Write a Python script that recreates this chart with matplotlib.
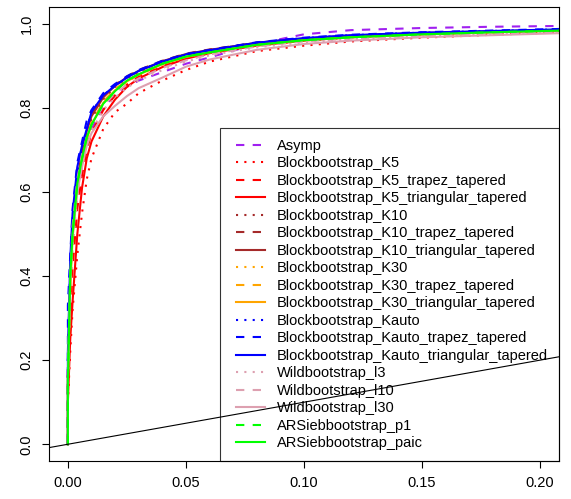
import numpy as np
import matplotlib.pyplot as plt
from matplotlib.legend_handler import HandlerLine2D

plt.rcParams['font.family'] = ['Liberation Sans', 'DejaVu Sans']

# false positive rate grid (first two points: origin and vertical jump at x=0)
fpr = [0, 0, 0.001, 0.002, 0.004, 0.006, 0.008, 0.010, 0.015, 0.020, 0.025,
       0.030, 0.040, 0.050, 0.060, 0.080, 0.100, 0.120, 0.150, 0.180, 0.210]

# true positive rates
asymp = [0, 0.20, 0.35, 0.48, 0.60, 0.67, 0.72, 0.75, 0.80, 0.83, 0.85,
         0.865, 0.885, 0.905, 0.920, 0.952, 0.975, 0.985, 0.990, 0.993, 0.995]
k5 = [0, 0.10, 0.22, 0.32, 0.45, 0.55, 0.63, 0.68, 0.75, 0.79, 0.81,
      0.835, 0.865, 0.890, 0.910, 0.935, 0.948, 0.958, 0.967, 0.974, 0.980]
k5_trap = [0, 0.15, 0.30, 0.42, 0.56, 0.64, 0.70, 0.74, 0.795, 0.83, 0.855,
           0.875, 0.900, 0.918, 0.930, 0.948, 0.960, 0.968, 0.975, 0.980, 0.984]
k5_tri = [0, 0.10, 0.25, 0.34, 0.50, 0.61, 0.68, 0.72, 0.78, 0.82, 0.85,
          0.870, 0.897, 0.917, 0.930, 0.948, 0.960, 0.968, 0.975, 0.980, 0.984]
k10 = [0, 0.15, 0.38, 0.50, 0.62, 0.69, 0.74, 0.775, 0.82, 0.85, 0.87,
       0.885, 0.910, 0.927, 0.937, 0.954, 0.964, 0.971, 0.977, 0.981, 0.985]
k10_trap = [0, 0.18, 0.40, 0.52, 0.64, 0.70, 0.75, 0.785, 0.83, 0.855, 0.875,
            0.890, 0.912, 0.929, 0.939, 0.955, 0.965, 0.972, 0.978, 0.982, 0.986]
k10_tri = [0, 0.16, 0.39, 0.51, 0.63, 0.695, 0.745, 0.78, 0.825, 0.853, 0.873,
           0.888, 0.911, 0.928, 0.938, 0.955, 0.965, 0.972, 0.978, 0.982, 0.986]
k30 = [0, 0.15, 0.36, 0.48, 0.60, 0.67, 0.72, 0.76, 0.81, 0.84, 0.862,
       0.878, 0.903, 0.921, 0.932, 0.950, 0.961, 0.968, 0.975, 0.980, 0.984]
k30_trap = [0, 0.16, 0.38, 0.50, 0.62, 0.68, 0.73, 0.765, 0.815, 0.845, 0.865,
            0.881, 0.905, 0.922, 0.933, 0.951, 0.962, 0.969, 0.976, 0.981, 0.985]
k30_tri = [0, 0.15, 0.37, 0.49, 0.61, 0.675, 0.725, 0.76, 0.812, 0.842, 0.863,
           0.879, 0.904, 0.921, 0.932, 0.950, 0.961, 0.968, 0.975, 0.980, 0.984]
kauto = [0, 0.20, 0.42, 0.54, 0.65, 0.71, 0.75, 0.79, 0.83, 0.853, 0.872,
         0.888, 0.910, 0.927, 0.937, 0.955, 0.966, 0.973, 0.979, 0.983, 0.987]
kauto_trap = [0, 0.33, 0.45, 0.56, 0.67, 0.72, 0.77, 0.795, 0.835, 0.857, 0.875,
              0.890, 0.912, 0.928, 0.938, 0.956, 0.967, 0.974, 0.980, 0.984, 0.988]
kauto_tri = [0, 0.22, 0.44, 0.55, 0.66, 0.71, 0.75, 0.79, 0.83, 0.853, 0.872,
             0.888, 0.910, 0.927, 0.937, 0.955, 0.966, 0.973, 0.979, 0.983, 0.987]
wild_l3 = [0, 0.15, 0.36, 0.47, 0.59, 0.66, 0.71, 0.745, 0.795, 0.825, 0.848,
           0.865, 0.890, 0.910, 0.925, 0.944, 0.956, 0.964, 0.971, 0.976, 0.980]
wild_l10 = [0, 0.18, 0.40, 0.52, 0.63, 0.69, 0.73, 0.76, 0.805, 0.835, 0.855,
            0.870, 0.895, 0.913, 0.927, 0.946, 0.958, 0.965, 0.972, 0.977, 0.981]
wild_l30 = [0, 0.15, 0.40, 0.50, 0.60, 0.66, 0.71, 0.74, 0.78, 0.805, 0.828,
            0.847, 0.872, 0.898, 0.915, 0.938, 0.952, 0.960, 0.968, 0.973, 0.978]
ar_p1 = [0, 0.15, 0.40, 0.50, 0.62, 0.68, 0.73, 0.76, 0.81, 0.84, 0.865,
         0.880, 0.905, 0.922, 0.932, 0.950, 0.961, 0.968, 0.975, 0.980, 0.984]
ar_paic = [0, 0.15, 0.40, 0.50, 0.62, 0.68, 0.73, 0.76, 0.81, 0.84, 0.865,
           0.880, 0.905, 0.922, 0.932, 0.950, 0.961, 0.968, 0.975, 0.980, 0.984]

labels = ['Asymp', 'Blockbootstrap_K5', 'Blockbootstrap_K5_trapez_tapered',
          'Blockbootstrap_K5_triangular_tapered', 'Blockbootstrap_K10',
          'Blockbootstrap_K10_trapez_tapered', 'Blockbootstrap_K10_triangular_tapered',
          'Blockbootstrap_K30', 'Blockbootstrap_K30_trapez_tapered',
          'Blockbootstrap_K30_triangular_tapered', 'Blockbootstrap_Kauto',
          'Blockbootstrap_Kauto_trapez_tapered', 'Blockbootstrap_Kauto_triangular_tapered',
          'Wildbootstrap_l3', 'Wildbootstrap_l10', 'Wildbootstrap_l30',
          'ARSiebbootstrap_p1', 'ARSiebbootstrap_paic']
series = [asymp, k5, k5_trap, k5_tri, k10, k10_trap, k10_tri, k30, k30_trap, k30_tri,
          kauto, kauto_trap, kauto_tri, wild_l3, wild_l10, wild_l30, ar_p1, ar_paic]

pink = '#DDA0B0'
colores = ['#A020F0', 'red', 'red', 'red', '#A52A2A', '#A52A2A', '#A52A2A',
           'orange', 'orange', 'orange', 'blue', 'blue', 'blue',
           pink, pink, pink, '#00FF00', '#00FF00']
dotted = (0, (1, 3))
dashed = (0, (4, 4))
estilos = [dashed] + [dotted, dashed, '-'] * 5 + [dashed, '-']

fs = 10.5

fig = plt.figure(figsize=(5.71, 4.99), dpi=100)
ax = fig.add_axes([0.0858, 0.076, 0.893, 0.910])

for y, c, ls, lab in zip(series, colores, estilos, labels):
    ax.plot(fpr, y, color=c, linestyle=ls, linewidth=1.5, label=lab)

ax.axline((0, 0), slope=1, color='black', linewidth=0.8, zorder=5)

ax.set_xlim(-0.008, 0.208)
ax.set_ylim(-0.04, 1.04)
ax.set_xticks([0.00, 0.05, 0.10, 0.15, 0.20])
ax.set_xticklabels(['0.00', '0.05', '0.10', '0.15', '0.20'])
ax.set_yticks([0.0, 0.2, 0.4, 0.6, 0.8, 1.0])
ax.set_yticklabels(['0.0', '0.2', '0.4', '0.6', '0.8', '1.0'], rotation=90, va='center')
ax.tick_params(labelsize=fs, length=5, width=0.8, pad=6)
for s in ax.spines.values():
    s.set_linewidth(0.8)

leg = ax.legend(loc='lower right', fontsize=fs, frameon=True, fancybox=False,
                edgecolor='black', facecolor='none', borderaxespad=0,
                numpoints=2, handler_map={plt.Line2D: HandlerLine2D(marker_pad=0.3)},
                handlelength=2.6, handletextpad=0.52, labelspacing=0.24,
                borderpad=0.75)
leg.get_frame().set_linewidth(0.8)

plt.savefig('out.png', dpi=100)
